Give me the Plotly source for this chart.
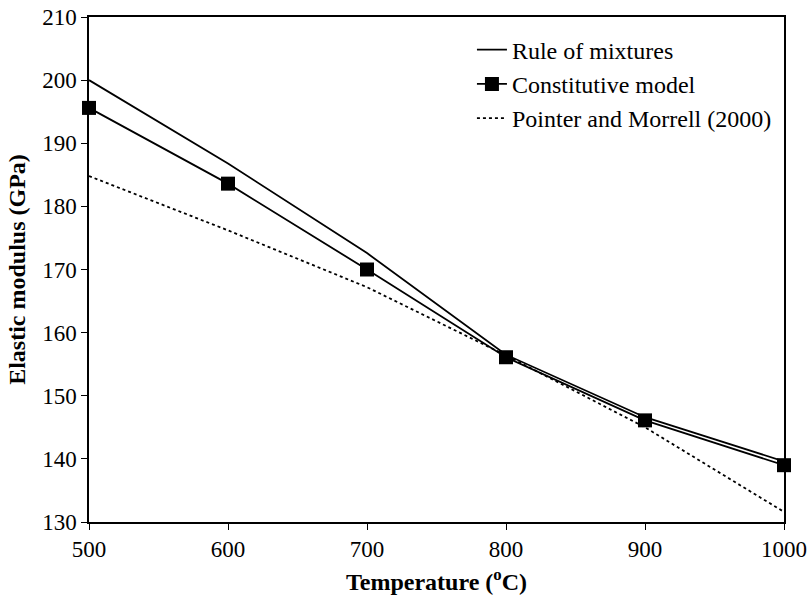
import plotly.graph_objects as go

temperature = [500, 600, 700, 800, 900, 1000]
rule_of_mixtures = [200.0, 186.8, 172.6, 156.5, 146.6, 139.6]
constitutive_model = [195.6, 183.6, 170.0, 156.1, 146.1, 139.0]
pointer_morrell = [184.8, 176.2, 167.2, 156.4, 145.0, 131.6]

font_family = "Liberation Serif"

fig = go.Figure()
fig.add_trace(go.Scatter(
    x=temperature, y=rule_of_mixtures, mode="lines", name="Rule of mixtures",
    line=dict(color="black", width=1.8), cliponaxis=False))
fig.add_trace(go.Scatter(
    x=temperature, y=constitutive_model, mode="lines+markers", name="Constitutive model",
    line=dict(color="black", width=1.8), cliponaxis=False,
    marker=dict(symbol="square", size=14, color="black")))
fig.add_trace(go.Scatter(
    x=temperature, y=pointer_morrell, mode="lines", name="Pointer and Morrell (2000)",
    line=dict(color="black", width=1.8, dash="dot"), cliponaxis=False))

fig.update_layout(
    width=811, height=601,
    margin=dict(l=89, r=27, t=17, b=79),
    paper_bgcolor="white", plot_bgcolor="white",
    font=dict(family=font_family, color="black", size=22),
    showlegend=True,
    legend=dict(x=0.551, y=0.979, xanchor="left", yanchor="top",
                font=dict(size=24, family=font_family, color="black"),
                bgcolor="rgba(0,0,0,0)", tracegroupgap=0, itemwidth=30),
    xaxis=dict(range=[500, 1000], dtick=100, tick0=500, showgrid=False, zeroline=False,
               showline=True, linecolor="black", linewidth=1.5, mirror=True,
               ticks="outside", ticklen=6, tickcolor="black", automargin=False,
               tickfont=dict(size=23, family=font_family, color="black"),
               title=dict(text="<b>Temperature (<sup>o</sup>C)</b>", standoff=12,
                          font=dict(size=24, family=font_family, color="black"))),
    yaxis=dict(range=[130, 210], dtick=10, tick0=130, showgrid=False, zeroline=False,
               showline=True, linecolor="black", linewidth=1.5, mirror=True,
               ticks="outside", ticklen=6, tickcolor="black", automargin=False,
               tickfont=dict(size=23, family=font_family, color="black"),
               title=dict(text="<b>Elastic modulus (GPa)</b>", standoff=10,
                          font=dict(size=24, family=font_family, color="black"))),
)

fig.write_html("out.html")
